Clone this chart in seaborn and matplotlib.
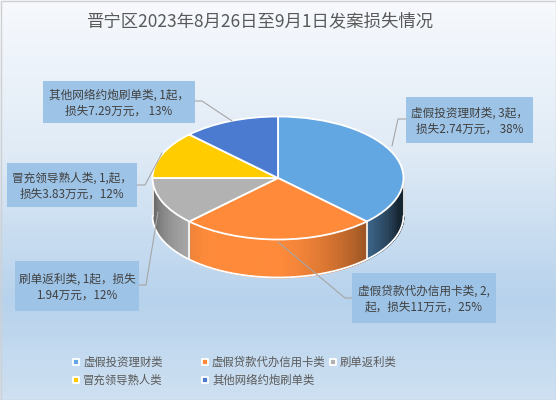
import numpy as np
import matplotlib
matplotlib.use("Agg")
import matplotlib.pyplot as plt
from matplotlib.patches import Rectangle
from matplotlib.colors import to_rgb
import seaborn as sns

# ---------------- data ----------------
title = "晋宁区2023年8月26日至9月1日发案损失情况"
categories = ["虚假投资理财类", "虚假贷款代办信用卡类", "刷单返利类", "冒充领导熟人类", "其他网络约炮刷单类"]
case_counts = [3, 2, 1, 1, 1]
loss_wan = [2.74, 11, 1.94, 3.83, 7.29]
pct_text = ["38%", "25%", "12%", "12%", "13%"]
label_texts = [
    "虚假投资理财类, 3起，\n损失2.74万元， 38%",
    "虚假贷款代办信用卡类, 2,\n起，损失11万元，25%",
    "刷单返利类, 1起，损失\n1.94万元，12%",
    "冒充领导熟人类, 1,起，\n损失3.83万元，12%",
    "其他网络约炮刷单类, 1起，\n损失7.29万元， 13%",
]
slice_colors = ["#62a6e2", "#fe8a3a", "#b2b2b2", "#ffcc00", "#4a7bd0"]

# ---------------- style ----------------
sns.set_theme(style="white")
plt.rcParams['font.family'] = ['Noto Sans CJK SC', 'DejaVu Sans']

W, H = 556, 400
fig = plt.figure(figsize=(W / 100, H / 100), dpi=100)

# background gradient
bg = fig.add_axes([0, 0, 1, 1], zorder=0)
stops_y = [0, 150, 300, 400]
stops_c = [to_rgb("#f7f9fd"), to_rgb("#e0ebf6"), to_rgb("#b7d2ec"), to_rgb("#cfe1f2")]
ys = np.arange(H)
grad = np.zeros((H, 1, 3))
for k in range(3):
    grad[:, 0, k] = np.interp(ys, stops_y, [c[k] for c in stops_c])
bg.imshow(grad, aspect="auto", extent=(0, W, H, 0))
bg.set_xlim(0, W)
bg.set_ylim(H, 0)
bg.axis("off")

# ---------------- 3D pie ----------------
cx, cy, a, b, depth = 278.0, 178.0, 125.5, 61.5, 38.0
d = depth / b
xl, yl = (-1.1, 1.1), (-1.8, 1.1)
left = cx + xl[0] * a
width = (xl[1] - xl[0]) * a
top = cy - yl[1] * b
height = (yl[1] - yl[0]) * b
pax = fig.add_axes([left / W, 1 - (top + height) / H, width / W, height / H], zorder=1)
pax.patch.set_alpha(0)

wedges, _ = pax.pie(case_counts, colors=slice_colors, startangle=90, counterclock=False,
                    radius=1.0, center=(0, 0),
                    wedgeprops=dict(edgecolor="white", linewidth=1.3, zorder=3))
pax.set_aspect("auto")
pax.set_xlim(*xl)
pax.set_ylim(*yl)
pax.axis("off")

L = np.array([-0.3, -1.0])
L = L / np.linalg.norm(L)


def shade(tdeg):
    t = np.radians(tdeg)
    dot = np.cos(t) * L[0] + np.sin(t) * L[1]
    return float(np.clip(0.22 + 0.82 * max(0.0, dot), 0, 1))


total = float(sum(case_counts))
cum = 0.0
boundaries = []
for i, v in enumerate(case_counts):
    t_start = 90 - 360 * cum / total
    cum += v
    t_end = 90 - 360 * cum / total
    lo, hi = max(t_end, -180.0), min(t_start, 0.0)
    if -180 < t_end < 0:
        boundaries.append(t_end)
    if lo < hi:
        n = max(2, int(np.ceil((hi - lo) / 1.5)))
        edges = np.linspace(lo, hi, n + 1)
        base = np.array(to_rgb(slice_colors[i]))
        for ta, tb in zip(edges[:-1], edges[1:]):
            tt = np.radians(np.linspace(ta, tb, 4))
            xs = np.cos(tt)
            ytop = np.sin(tt)
            col = np.clip(base * shade((ta + tb) / 2), 0, 1)
            pax.fill_between(xs, ytop, ytop - d, color=col, linewidth=0.6,
                             edgecolor=col, zorder=1)

# white outlines of side
tt = np.radians(np.linspace(-180, 0, 200))
pax.plot(np.cos(tt), np.sin(tt) - d, color="white", lw=1.3, zorder=2)
for tb in boundaries + [-180.0, 0.0]:
    t = np.radians(tb)
    pax.plot([np.cos(t), np.cos(t)], [np.sin(t), np.sin(t) - d], color="white", lw=1.2, zorder=2)

# ---------------- overlay: title, labels, legend ----------------
ov = fig.add_axes([0, 0, 1, 1], zorder=2)
ov.patch.set_alpha(0)
ov.set_xlim(0, W)
ov.set_ylim(H, 0)
ov.axis("off")

ov.add_patch(Rectangle((0.5, 0.5), W - 1, H - 1, fill=False, edgecolor="#d0d0d0", lw=1))
ov.text(261, 21, title, ha="center", va="center", fontsize=12.5, color="#595959")

boxes = [(406, 97, 127, 46), (352, 273, 144, 50), (15, 261, 124, 50),
         (7, 163, 130, 44), (43, 81, 152, 42)]
leaders = [
    [(406, 119), (398, 119), (392, 146)],
    [(352, 298), (345, 298), (278, 242)],
    [(139, 285), (146, 285), (158, 212)],
    [(137, 185), (145, 185), (162, 153)],
    [(195, 101), (202, 101), (232, 121)],
]
for txt, (bx, by, bw, bh), pts in zip(label_texts, boxes, leaders):
    ov.add_patch(Rectangle((bx, by), bw, bh, facecolor="#9dc3e6", edgecolor="none", zorder=3))
    ov.text(bx + bw / 2, by + bh / 2 + 1, txt, ha="center", va="center", fontsize=8.4,
            color="#404040", linespacing=1.35, zorder=4)
    px, py = zip(*pts)
    ov.plot(px, py, color="#a6a6a6", lw=0.8, zorder=2)

legend_pos = [(76, 362), (205, 362), (333, 362), (76, 380), (205, 380)]
for cat, col, (lx, ly) in zip(categories, slice_colors, legend_pos):
    ov.scatter([lx], [ly], marker="s", s=22, color=col, edgecolors="white", linewidths=1.3, zorder=4)
    ov.text(lx + 7, ly, cat, ha="left", va="center", fontsize=8.2, color="#595959", zorder=4)

fig.savefig("out.png", dpi=100)
